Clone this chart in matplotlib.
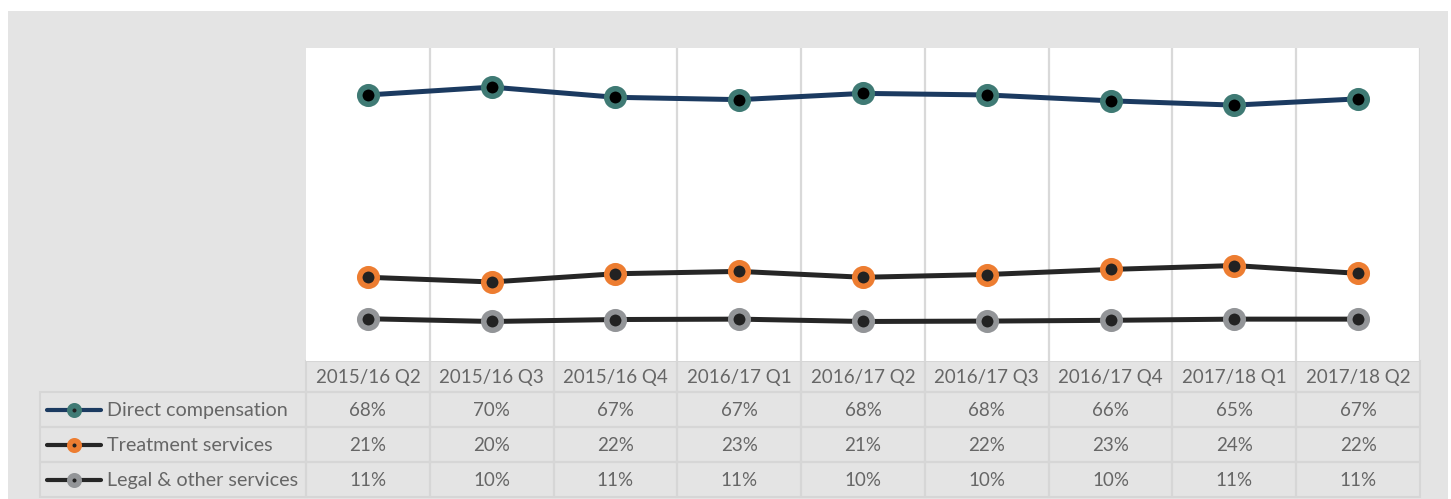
import matplotlib.pyplot as plt
from matplotlib.patches import Rectangle
from matplotlib.lines import Line2D

plt.rcParams['font.family'] = ['Lato', 'DejaVu Sans']

quarters = ['2015/16 Q2', '2015/16 Q3', '2015/16 Q4', '2016/17 Q1', '2016/17 Q2',
            '2016/17 Q3', '2016/17 Q4', '2017/18 Q1', '2017/18 Q2']
direct = [68.0, 70.0, 67.4, 66.8, 68.4, 68.0, 66.5, 65.4, 67.0]
treatment = [21.4, 20.2, 22.3, 22.9, 21.4, 22.1, 23.4, 24.4, 22.4]
legal = [10.8, 10.1, 10.6, 10.7, 10.1, 10.2, 10.4, 10.7, 10.7]
direct_lbl = ['68%', '70%', '67%', '67%', '68%', '68%', '66%', '65%', '67%']
treatment_lbl = ['21%', '20%', '22%', '23%', '21%', '22%', '23%', '24%', '22%']
legal_lbl = ['11%', '10%', '11%', '11%', '10%', '10%', '10%', '11%', '11%']
series_names = ['Direct compensation', 'Treatment services', 'Legal & other services']
series = [direct, treatment, legal]
labels = [direct_lbl, treatment_lbl, legal_lbl]
line_cols = ['#1b3a60', '#262626', '#262626']
mark_cols = ['#3f7a74', '#ed7d31', '#939598']
dot_cols = ['black', '#222222', '#222222']

W, H = 1451, 499
fig = plt.figure(figsize=(W / 100, H / 100), dpi=100)
fig.patch.set_facecolor('white')

# overlay in pixel coords for background + table
bg = fig.add_axes([0, 0, 1, 1])
bg.set_xlim(0, W)
bg.set_ylim(H, 0)
bg.axis('off')
bg.add_patch(Rectangle((8, 11), 1440, H - 11, facecolor='#e4e4e4', edgecolor='none'))

# main plot area
x0, x1, ytop, ybot = 306, 1420, 48, 361
ax = fig.add_axes([x0 / W, 1 - ybot / H, (x1 - x0) / W, (ybot - ytop) / H])
ax.set_facecolor('white')
n = len(quarters)
xs = list(range(n))
for vals, lc, mc, dc in zip(series, line_cols, mark_cols, dot_cols):
    ax.plot(xs, vals, color=lc, lw=3.6, solid_capstyle='round', zorder=3,
            marker='o', ms=12.6, mfc=dc, mec=mc, mew=4)
ax.set_xlim(-0.5, n - 0.5)
ax.set_ylim(0, 80)
for k in range(1, n + 1):
    ax.axvline(k - 0.5, color='#d9d9d9', lw=1.6, zorder=1)
ax.set_xticks([])
ax.set_yticks([])
for s in ax.spines.values():
    s.set_visible(False)

# table
colw = (x1 - x0) / n
rows_y = [361, 392, 427, 462, 497]
grid_c = '#d6d6d6'
txt_c = '#666666'
fs = 13.5
for i, q in enumerate(quarters):
    cx = x0 + colw * i
    bg.add_patch(Rectangle((cx, rows_y[0]), colw, rows_y[1] - rows_y[0],
                           facecolor='none', edgecolor=grid_c, lw=1.5))
    bg.text(cx + colw / 2, (rows_y[0] + rows_y[1]) / 2 + 1, q, ha='center', va='center',
            fontsize=fs, color=txt_c)
for r, (name, lbls, lc, mc) in enumerate(zip(series_names, labels, line_cols, mark_cols)):
    ya, yb = rows_y[r + 1], rows_y[r + 2]
    yc = (ya + yb) / 2 + 1
    bg.add_patch(Rectangle((40, ya), x0 - 40, yb - ya, facecolor='none',
                           edgecolor=grid_c, lw=1.5))
    bg.add_line(Line2D([47, 101], [yc - 1, yc - 1], color=lc, lw=3, solid_capstyle='round'))
    bg.plot([74], [yc - 1], marker='o', ms=6.9, mfc='#222222', mec=mc, mew=3.9)
    bg.text(107, yc, name, ha='left', va='center', fontsize=14.2, color=txt_c)
    for i, t in enumerate(lbls):
        cx = x0 + colw * i
        bg.add_patch(Rectangle((cx, ya), colw, yb - ya, facecolor='none',
                               edgecolor=grid_c, lw=1.5))
        bg.text(cx + colw / 2, yc, t, ha='center', va='center',
                fontsize=fs, color=txt_c)

fig.savefig('out.png', dpi=100, facecolor=fig.get_facecolor())
